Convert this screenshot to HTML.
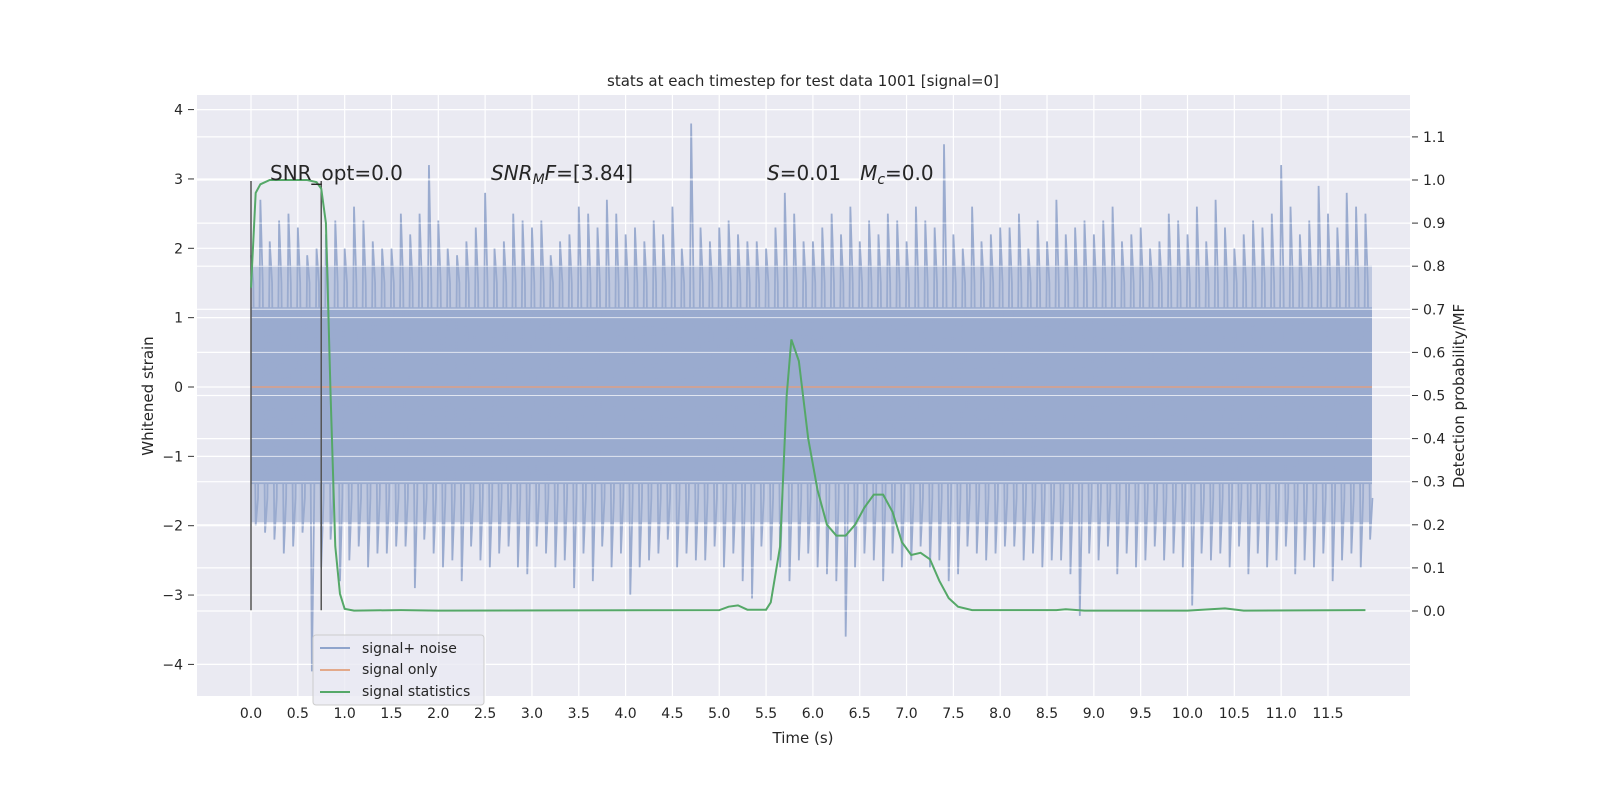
<!DOCTYPE html>
<html><head><meta charset="utf-8"><style>
html,body{margin:0;padding:0;background:#fff;overflow:hidden;width:1600px;height:800px}
svg{display:block}
text{font-family:"DejaVu Sans","Liberation Sans",sans-serif;fill:#262626}
</style></head><body>
<svg id="chart" width="1600" height="800" xmlns="http://www.w3.org/2000/svg">
<rect width="1600" height="800" fill="#fff"/>
<rect x="197" y="95" width="1213" height="601" fill="#eaeaf2"/>
<g id="grid"></g>
<g id="noise"></g>
<g id="marks"></g>
<g id="axes"></g>
<text x="803" y="86" font-size="15" text-anchor="middle">stats at each timestep for test data 1001 [signal=0]</text>
<text x="803" y="743" font-size="15" text-anchor="middle">Time (s)</text>
<text transform="translate(153,396) rotate(-90)" font-size="15" text-anchor="middle">Whitened strain</text>
<text transform="translate(1464,396) rotate(-90)" font-size="15" text-anchor="middle">Detection probability/MF</text>
<text x="270" y="180" font-size="20">SNR_opt=0.0</text>
<text x="491" y="180" font-size="20"><tspan font-style="italic">SNR</tspan><tspan font-style="italic" font-size="14" dy="4">M</tspan><tspan font-style="italic" dy="-4">F</tspan>=[3.84]</text>
<text x="767" y="180" font-size="20" xml:space="preserve"><tspan font-style="italic">S</tspan>=0.01   <tspan font-style="italic">M</tspan><tspan font-style="italic" font-size="14" dy="4">c</tspan><tspan dy="-4">=0.0</tspan></text>
<g>
<rect x="313" y="635" width="171" height="70" rx="3" fill="#eaeaf2" fill-opacity="0.8" stroke="#ccc"/>
<line x1="320" y1="648" x2="350" y2="648" stroke="#8fa4cc" stroke-width="2"/>
<text x="362" y="653" font-size="14">signal+ noise</text>
<line x1="320" y1="670" x2="350" y2="670" stroke="#e3a98a" stroke-width="2"/>
<text x="362" y="674" font-size="14">signal only</text>
<line x1="320" y1="692" x2="350" y2="692" stroke="#55a868" stroke-width="2"/>
<text x="362" y="696" font-size="14">signal statistics</text>
</g>
</svg>
<script>
const xTicks=[0,0.5,1,1.5,2,2.5,3,3.5,4,4.5,5,5.5,6,6.5,7,7.5,8,8.5,9,9.5,10,10.5,11,11.5];
const yTicks=[-4,-3,-2,-1,0,1,2,3,4];
const y2Ticks=[0,0.1,0.2,0.3,0.4,0.5,0.6,0.7,0.8,0.9,1.0,1.1];
const statT=[0,0.05,0.1,0.2,0.4,0.6,0.7,0.75,0.8,0.85,0.9,0.95,1.0,1.1,1.6,2,5.0,5.1,5.2,5.3,5.5,5.55,5.65,5.72,5.77,5.85,5.95,6.05,6.15,6.25,6.35,6.45,6.55,6.65,6.75,6.85,6.95,7.05,7.15,7.25,7.35,7.45,7.55,7.7,8.6,8.7,8.9,10.0,10.4,10.6,11.9];
const statV=[0.75,0.97,0.99,1.0,1.0,1.0,0.995,0.98,0.9,0.5,0.15,0.04,0.005,0.001,0.002,0.001,0.002,0.01,0.013,0.003,0.003,0.02,0.15,0.5,0.63,0.58,0.4,0.28,0.2,0.175,0.175,0.2,0.24,0.27,0.27,0.23,0.16,0.13,0.135,0.12,0.07,0.03,0.01,0.002,0.002,0.004,0.001,0.001,0.006,0.001,0.002];
const noiseTop=[1.9,2.7,2.1,2.4,2.5,2.3,1.9,2.0,2.2,2.4,2.0,2.6,2.4,2.1,2.0,2.0,2.5,2.2,2.5,3.2,2.4,2.0,1.9,2.1,2.3,2.8,2.0,2.1,2.5,2.4,2.3,2.4,1.9,2.1,2.2,2.6,2.5,2.3,2.7,2.5,2.2,2.3,2.1,2.4,2.2,2.6,2.0,3.8,2.3,2.1,2.3,2.4,2.2,2.1,2.1,2.0,2.3,2.8,2.5,2.1,2.1,2.3,2.5,2.2,2.6,2.1,2.4,2.2,2.5,2.4,2.1,2.6,2.4,2.3,3.5,2.2,2.0,2.6,2.1,2.2,2.3,2.3,2.5,2.0,2.4,2.1,2.7,2.2,2.3,2.4,2.2,2.4,2.6,2.1,2.2,2.3,2.0,2.1,2.5,2.4,2.2,2.6,2.1,2.7,2.3,2.0,2.2,2.4,2.3,2.5,3.2,2.6,2.2,2.4,2.9,2.5,2.3,2.8,2.6,2.5];
const noiseBot=[-2.0,-2.1,-2.2,-2.4,-2.3,-2.1,-4.1,-2.6,-2.2,-2.8,-2.5,-2.3,-2.6,-2.4,-2.4,-2.3,-2.3,-2.9,-2.2,-2.4,-2.6,-2.5,-2.8,-2.3,-2.5,-2.6,-2.4,-2.3,-2.6,-2.7,-2.3,-2.4,-2.6,-2.5,-2.9,-2.4,-2.8,-2.3,-2.6,-2.4,-3.0,-2.6,-2.5,-2.4,-2.2,-2.6,-2.4,-2.5,-2.5,-2.3,-2.6,-2.4,-2.8,-3.05,-2.3,-2.5,-2.6,-2.8,-2.5,-2.4,-2.6,-2.7,-2.8,-3.6,-2.6,-2.4,-2.5,-2.8,-2.4,-2.6,-2.5,-2.3,-2.6,-2.5,-2.8,-2.7,-2.3,-2.4,-2.5,-2.4,-2.3,-2.3,-2.5,-2.4,-2.6,-2.5,-2.5,-2.7,-3.3,-2.4,-2.5,-2.3,-2.7,-2.4,-2.6,-2.5,-2.3,-2.5,-2.4,-2.6,-3.15,-2.4,-2.5,-2.4,-2.6,-2.3,-2.7,-2.4,-2.6,-2.5,-2.3,-2.7,-2.5,-2.6,-2.4,-2.8,-2.5,-2.4,-2.6,-2.2];
const NS="http://www.w3.org/2000/svg";
const X=t=>251+t*93.65, Y=v=>387-v*69.35, Y2=p=>611-p*431;
function mk(tag,attrs,parent){const e=document.createElementNS(NS,tag);for(const k in attrs)e.setAttribute(k,attrs[k]);document.getElementById(parent).appendChild(e);return e;}
xTicks.forEach(t=>{
 const g=mk('line',{x1:X(t),x2:X(t),y1:95,y2:696,stroke:'#fff','stroke-width':1.2},'grid');
 
 
 const tk=mk('text',{x:X(t),y:718,'font-size':14,'text-anchor':'middle'},'axes');tk.textContent=t.toFixed(1);
 
 
});
yTicks.forEach(v=>{
 const g=mk('line',{x1:197,x2:1410,y1:Y(v),y2:Y(v),stroke:'#fff','stroke-width':1.2},'grid');
 
 
 mk('line',{x1:188,x2:194,y1:Y(v),y2:Y(v),stroke:'#333'},'axes');
 const tk=mk('text',{x:183,y:Y(v)+5,'font-size':14,'text-anchor':'end'},'axes');tk.textContent=v<0?'\u2212'+(-v):String(v);
 
 
});
y2Ticks.forEach(p=>{
 const g=mk('line',{x1:197,x2:1410,y1:Y2(p),y2:Y2(p),stroke:'#fff','stroke-width':1.2},'grid');
 
 
 mk('line',{x1:1412,x2:1418,y1:Y2(p),y2:Y2(p),stroke:'#333'},'axes');
 const tk=mk('text',{x:1423,y:Y2(p)+5,'font-size':14},'axes');tk.textContent=p.toFixed(1);
 
 
});
// noise: lighter outer band + dense core
const outer=mk('rect',{x:X(0),y:Y(1.75),width:X(11.97)-X(0),height:Y(-1.95)-Y(1.75),fill:'#9aabcf','fill-opacity':0.55},'noise');


const core=mk('rect',{x:X(0),y:Y(1.15),width:X(11.97)-X(0),height:Y(-1.4)-Y(1.15),fill:'#9aabcf'},'noise');


let pts=[];
noiseTop.forEach((v,i)=>{pts.push(X(i*0.1)+','+Y(v));pts.push(X(i*0.1+0.025)+','+Y(1.5));pts.push(X(i*0.1+0.05)+','+Y(noiseBot[i]));pts.push(X(i*0.1+0.075)+','+Y(-1.6));});
const nl=mk('polyline',{points:pts.join(' '),fill:'none',stroke:'#9aabcf','stroke-width':1.8},'noise');


yTicks.forEach(v=>{mk('line',{x1:X(0),x2:X(11.97),y1:Y(v),y2:Y(v),stroke:'#fff','stroke-opacity':0.7},'noise');});
y2Ticks.forEach(p=>{mk('line',{x1:X(0),x2:X(11.97),y1:Y2(p),y2:Y2(p),stroke:'#fff','stroke-opacity':0.7},'noise');});
const so=mk('line',{x1:X(0),x2:X(11.97),y1:Y(0),y2:Y(0),stroke:'#dd9f86','stroke-width':1.5},'marks');


[0,0.75].forEach(t=>{const l=mk('line',{x1:X(t),x2:X(t),y1:Y(2.97),y2:Y(-3.22),stroke:'#555','stroke-width':1.5},'marks');
 
 });
const sp=mk('polyline',{points:statT.map((t,i)=>X(t)+','+Y2(statV[i])).join(' '),fill:'none',stroke:'#55a868','stroke-width':2},'marks');


</script>
</body></html>
